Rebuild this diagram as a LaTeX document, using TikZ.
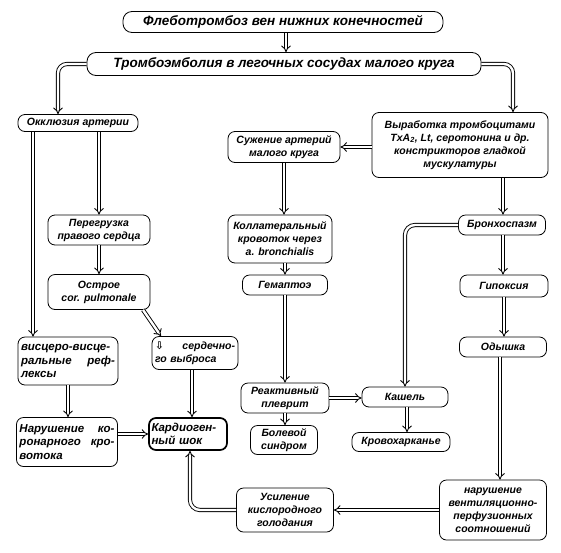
\documentclass[tikz,border=0pt]{standalone}
\usepackage{fontspec}
\setmainfont{Liberation Sans}
\newfontfamily\symfont{DejaVu Sans}
\usetikzlibrary{arrows.meta}
\begin{document}
\begin{tikzpicture}[x=1pt,y=-1pt,
  box/.style={draw, line width=0.8pt, rounded corners=7pt, inner sep=2pt, align=center,
    font=\fontsize{10.5}{13}\selectfont\bfseries\itshape},
  title/.style={box, rounded corners=9pt, font=\fontsize{13.5}{15}\selectfont\bfseries\itshape},
  wh/.style 2 args={minimum width=#1pt, minimum height=#2pt},
  lbox/.style={box, align=left, text width=#1pt,
    font=\fontsize{11.5}{13.5}\selectfont\bfseries\itshape},
  arr/.style={double, double distance=2.4pt, line width=0.9pt, -{Implies}},
]
\path[use as bounding box, fill=white] (0,0) rectangle (561,552);

% nodes
\node[title, wh={320}{21}] (top) at (283,22) {Флеботромбоз вен нижних конечностей};
\node[title, wh={394}{23}] (tea) at (284,64) {Тромбоэмболия в легочных сосудах малого круга};
\node[box, wh={120}{17}] (okk) at (78,123) {Окклюзия артерии};
\node[box, wh={176}{65}] (vyr) at (460,145) {Выработка тромбоцитами\\ TxA\textsubscript{2}, Lt, серотонина и др.\\ констрикторов гладкой\\ мускулатуры};
\node[box, wh={112}{31}] (suzh) at (284,147) {Сужение артерий\\ малого круга};
\node[box, wh={102}{30}] (pereg) at (99,230) {Перегрузка\\ правого сердца};
\node[box, wh={104}{48}] (koll) at (280,239) {Коллатеральный\\ кровоток через\\ a. bronchialis};
\node[box, wh={87}{20}] (bronch) at (502,225) {Бронхоспазм};
\node[box, wh={85}{20}] (gem) at (285,285) {Гемаптоэ};
\node[box, wh={88}{22}] (gipo) at (504,286) {Гипоксия};
\node[box, wh={102}{35}] (ostr) at (99,292) {Острое\\ cor. pulmonale};
\node[lbox=94, wh={100}{48}] (visc) at (68,361) {висцеро-висце-\\ ральные\hfill реф-\\ лексы};
\node[box, align=left, text width=80pt, wh={86}{33}] (serd) at (195,353) {{\symfont ⇩}\hfill сердечно-\\ го выброса};
\node[box, wh={87}{20}] (odysh) at (503,347) {Одышка};
\node[box, wh={88}{30}] (reak) at (285,398) {Реактивный\\ плеврит};
\node[box, wh={86}{20}] (kash) at (405,397) {Кашель};
\node[lbox=95, wh={101}{49}] (narc) at (67,442) {Нарушение\hfill ко-\\ ронарного\hfill кро-\\ вотока};
\node[lbox=73, wh={78}{32}, line width=1.7pt] (kard) at (188,434) {Кардиоген-\\ ный шок};
\node[box, wh={67}{29}] (bol) at (284,440) {Болевой\\ синдром};
\node[box, wh={98}{19}] (krov) at (401,442) {Кровохарканье};
\node[box, wh={97}{44}] (usil) at (285,510) {Усиление\\ кислородного\\ голодания};
\node[box, wh={107}{60}] (narv) at (493,510) {нарушение\\ вентиляционно-\\ перфузионных\\ соотношений};

% connectors
\draw[arr] ([xshift=3pt]top.south) -- ([xshift=3pt]top.south |- tea.north);
\draw[arr, rounded corners=9pt] (tea.west) -| ([xshift=-20pt]okk.north);
\draw[arr, rounded corners=9pt] (tea.east) -| ([xshift=53pt]vyr.north);
\draw[arr] ([xshift=-45pt]okk.south) -- ([xshift=-45pt]okk.south |- visc.north);
\draw[arr] ([xshift=21pt]okk.south) -- (pereg.north);
\draw[arr] (pereg.south) -- (ostr.north);
\draw[arr] ([xshift=44pt]ostr.south) -- ([xshift=-34pt]serd.north);
\draw[arr] ([xshift=-3pt]serd.south) -- ([xshift=-3pt]serd.south |- kard.north);
\draw[arr] (visc.south) -- (visc.south |- narc.north);
\draw[arr] (narc.east |- kard.west) -- (kard.west);
\draw[arr, rounded corners=10pt] (usil.west) -| ([xshift=2pt]kard.south);
\draw[arr] (narv.west) -- (usil.east);
\draw[arr] ([xshift=-3pt]odysh.south) -- ([xshift=-3pt]odysh.south |- narv.north);
\draw[arr] (gipo.south) -- (gipo.south |- odysh.north);
\draw[arr] ([xshift=1pt]bronch.south) -- ([xshift=1pt]bronch.south |- gipo.north);
\draw[arr] ([xshift=43pt]vyr.south) -- ([xshift=43pt]vyr.south |- bronch.north);
\draw[arr] (vyr.west |- suzh.east) -- (suzh.east);
\draw[arr] (suzh.south) -- (suzh.south |- koll.north);
\draw[arr] (koll.south -| gem.north) -- (gem.north);
\draw[arr] (gem.south) -- (gem.south |- reak.north);
\draw[arr] (reak.south) -- (reak.south |- bol.north);
\draw[arr] (reak.east) -- (reak.east -| kash.west);
\draw[arr] ([xshift=2pt]kash.south) -- ([xshift=2pt]kash.south |- krov.north);
\draw[arr, rounded corners=10pt] (bronch.west) -| (kash.north);
\end{tikzpicture}
\end{document}
